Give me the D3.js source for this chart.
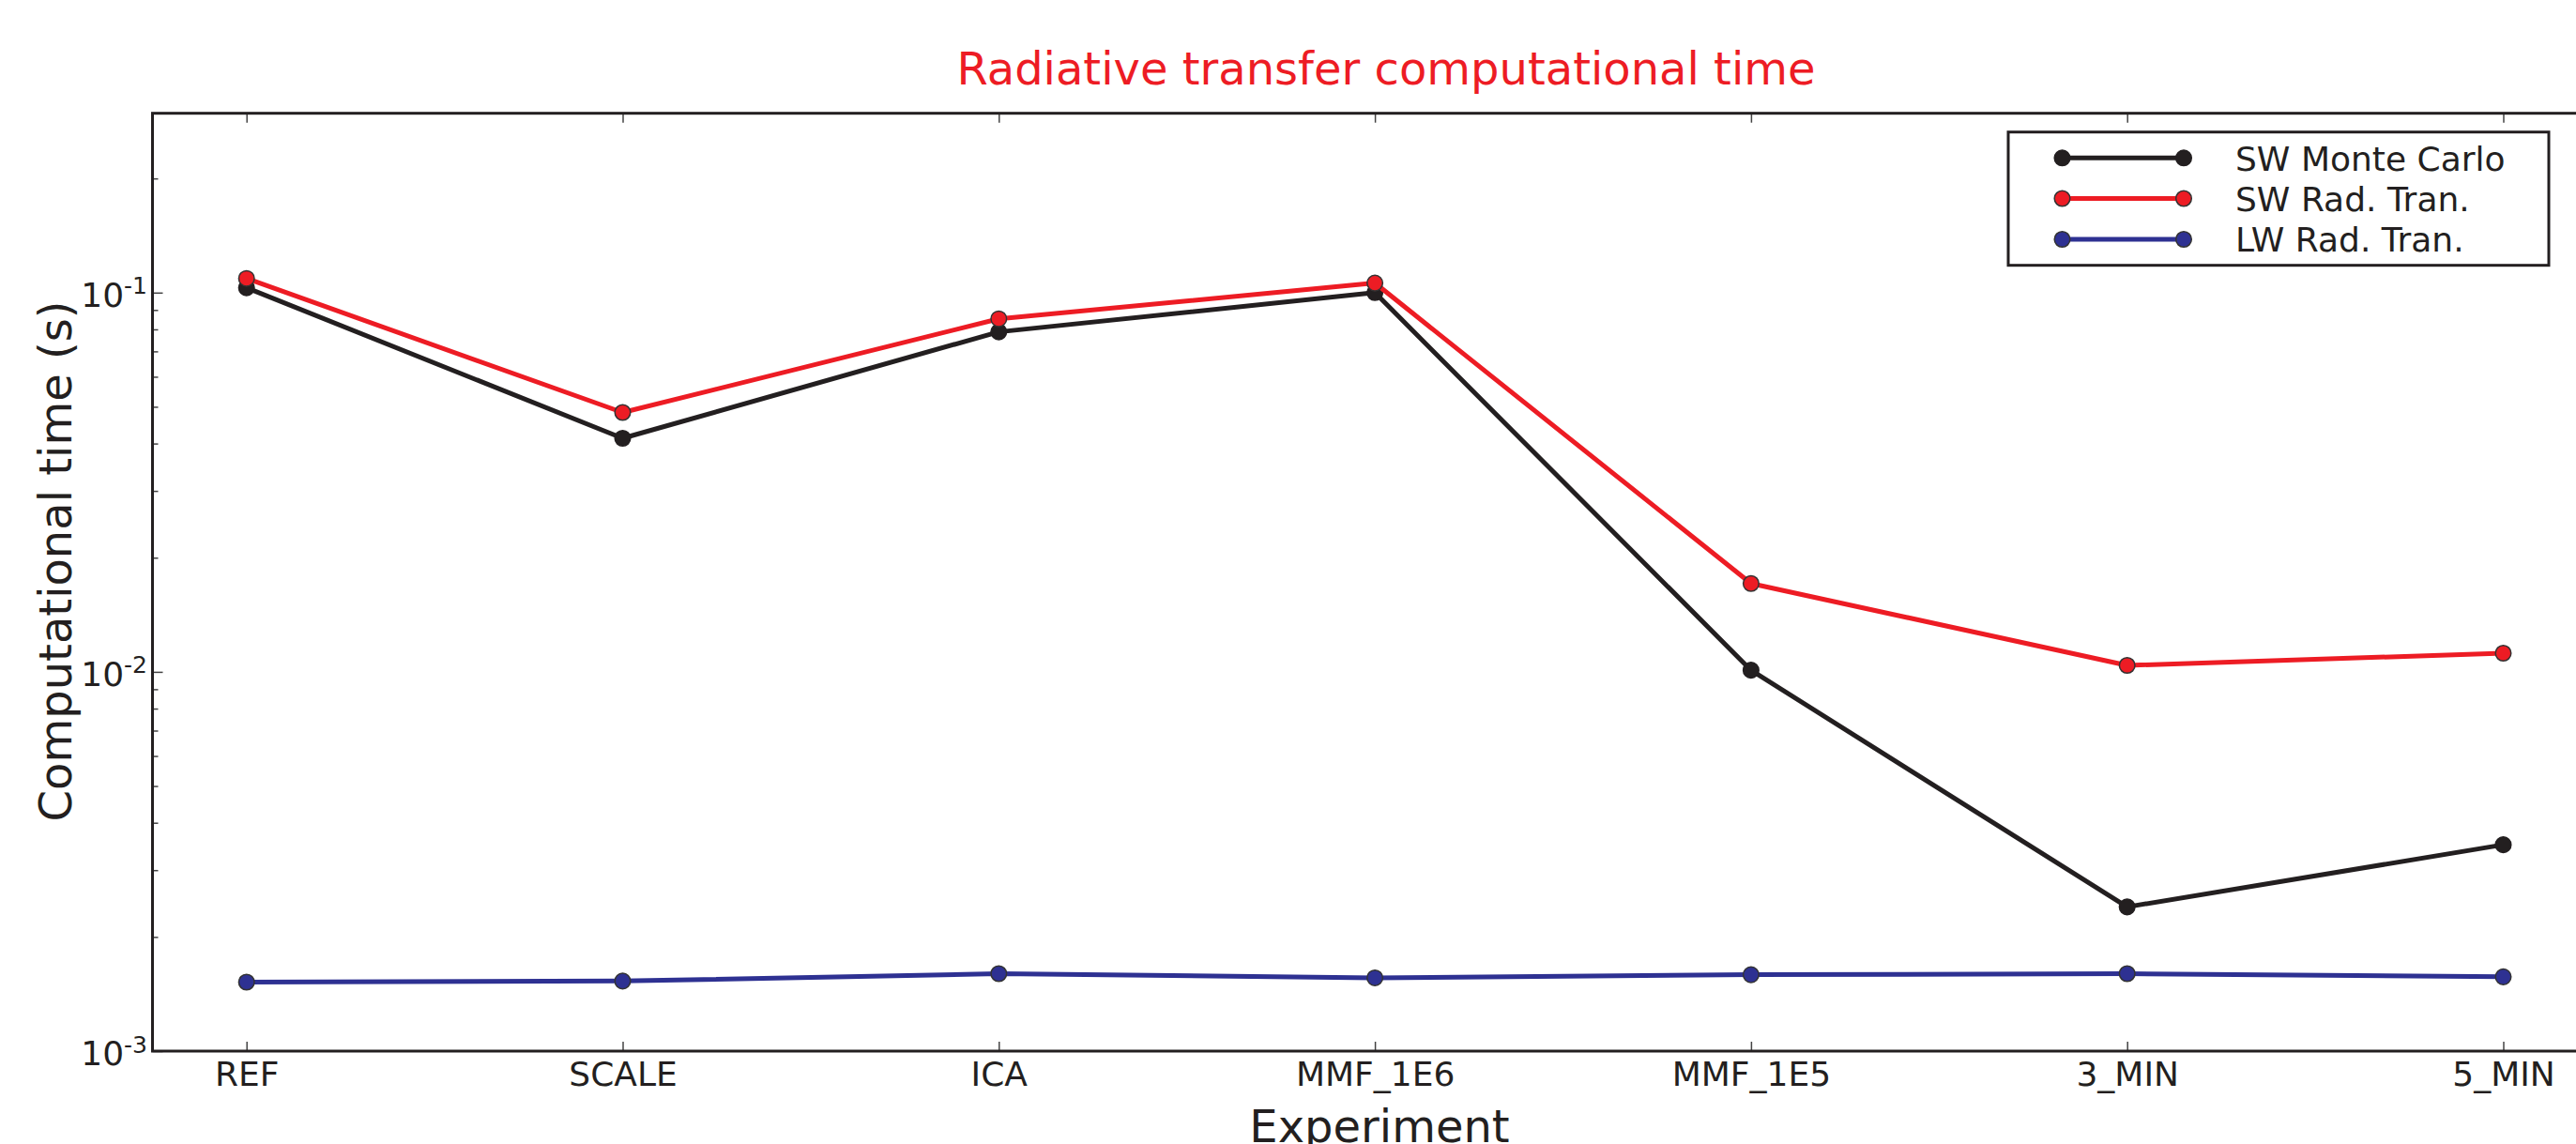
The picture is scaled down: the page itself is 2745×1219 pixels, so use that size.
<!DOCTYPE html>
<html>
<head>
<meta charset="utf-8">
<script src="https://cdn.jsdelivr.net/npm/d3@7"></script>
<style>
  body { margin: 0; background: #fff; }
  svg { display: block; font-family: "DejaVu Sans", sans-serif; }
</style>
</head>
<body>
<div id="chart"></div>
<script>
  // Values
  const experiments = ["REF", "SCALE", "ICA", "MMF_1E6", "MMF_1E5", "3_MIN", "5_MIN"];
  const swMonteCarlo = [0.103, 0.0413, 0.0788, 0.100, 0.0101, 0.00240, 0.00350];
  const swRadTran = [0.109, 0.0483, 0.0853, 0.106, 0.0171, 0.0104, 0.0112];
  const lwRadTran = [0.00152, 0.00153, 0.00160, 0.00156, 0.00159, 0.00160, 0.00157];
  const seriesNames = ["SW Monte Carlo", "SW Rad. Tran.", "LW Rad. Tran."];
  const seriesColors = ["#231f20", "#ed1c24", "#2e3192"];
  const majorTicks = [1e-3, 1e-2, 1e-1];
  const majorLabels = ["-3", "-2", "-1"];

  const width = 2745, height = 1219;
  const margin = {top: 120.7, left: 162.5, bottom: 1120};
  const ink = "#231f20";

  const svg = d3.select("#chart")
    .append("svg")
    .attr("width", width)
    .attr("height", height);

  // x runs from -0.25 to 6.25 so the right part of the frame falls off the page
  const x = d3.scaleLinear()
    .domain([-0.25, 6.25])
    .range([margin.left, margin.left + 6.5 * 400.8]);

  const y = d3.scaleLog()
    .domain([1e-3, 0.3])
    .range([margin.bottom, 119]);

  // minor ticks 2..9 per decade
  const minorTicks = [];
  [1e-3, 1e-2, 1e-1].forEach(d => {
    for (let k = 2; k <= 9; k++) {
      const v = k * d;
      if (v <= 0.3) minorTicks.push(v);
    }
  });

  // bottom axis
  const xAxis = svg.append("g")
    .attr("transform", `translate(0,${margin.bottom})`)
    .call(d3.axisBottom(x)
      .tickValues(d3.range(experiments.length))
      .tickFormat(i => experiments[i])
      .tickSize(-10)
      .tickPadding(11));
  xAxis.select(".domain").remove();
  xAxis.selectAll("line").attr("stroke", "#444").attr("stroke-width", 1.5);
  xAxis.selectAll("text")
    .attr("fill", ink)
    .style("font-size", "36px")
    .style("font-family", "DejaVu Sans");

  // top axis (ticks only)
  const xTop = svg.append("g")
    .attr("transform", `translate(0,${margin.top})`)
    .call(d3.axisTop(x)
      .tickValues(d3.range(experiments.length))
      .tickFormat("")
      .tickSize(-10));
  xTop.select(".domain").remove();
  xTop.selectAll("line").attr("stroke", "#444").attr("stroke-width", 1.5);

  // left axis major + minor ticks
  const yMajor = svg.append("g")
    .attr("transform", `translate(${margin.left},0)`)
    .call(d3.axisLeft(y).tickValues(majorTicks).tickFormat("").tickSize(-11));
  yMajor.select(".domain").remove();
  yMajor.selectAll("line").attr("stroke", "#444").attr("stroke-width", 1.5);

  const yMinor = svg.append("g")
    .attr("transform", `translate(${margin.left},0)`)
    .call(d3.axisLeft(y).tickValues(minorTicks).tickFormat("").tickSize(-6));
  yMinor.select(".domain").remove();
  yMinor.selectAll("line").attr("stroke", "#444").attr("stroke-width", 1.5);

  // y tick labels as 10 with superscript
  const yLab = svg.append("g").selectAll("text")
    .data(majorTicks)
    .join("text")
    .attr("x", 157)
    .attr("y", d => y(d) + 15)
    .attr("text-anchor", "end")
    .attr("fill", ink)
    .style("font-size", "36px");
  yLab.append("tspan").text("10");
  yLab.append("tspan")
    .attr("dy", -13.5)
    .style("font-size", "25px")
    .text((d, i) => majorLabels[i]);

  // frame
  const x0 = x.range()[0], x1 = x.range()[1];
  svg.append("rect")
    .attr("x", x0)
    .attr("y", margin.top)
    .attr("width", x1 - x0)
    .attr("height", margin.bottom - margin.top)
    .attr("fill", "none")
    .attr("stroke", ink)
    .attr("stroke-width", 3);

  // lines
  const allSeries = [swMonteCarlo, swRadTran, lwRadTran];
  const line = d3.line()
    .x((d, i) => x(i))
    .y(d => y(d));

  allSeries.forEach((s, k) => {
    svg.append("path")
      .datum(s)
      .attr("d", line)
      .attr("fill", "none")
      .attr("stroke", seriesColors[k])
      .attr("stroke-width", 5)
      .attr("stroke-linejoin", "round");
    svg.append("g").selectAll("circle")
      .data(s)
      .join("circle")
      .attr("cx", (d, i) => x(i))
      .attr("cy", d => y(d))
      .attr("r", 8.3)
      .attr("fill", seriesColors[k])
      .attr("stroke", k === 0 ? ink : "#333")
      .attr("stroke-width", 1.5);
  });

  // legend
  const legend = svg.append("g");
  legend.append("rect")
    .attr("x", 2140)
    .attr("y", 140.7)
    .attr("width", 576)
    .attr("height", 142)
    .attr("fill", "#fff")
    .attr("stroke", ink)
    .attr("stroke-width", 3);
  const rowY = [168.3, 211.5, 255];
  seriesNames.forEach((name, k) => {
    const g = legend.append("g");
    g.append("line")
      .attr("x1", 2197.5).attr("x2", 2327)
      .attr("y1", rowY[k]).attr("y2", rowY[k])
      .attr("stroke", seriesColors[k])
      .attr("stroke-width", 5);
    [2197.5, 2327].forEach(cx => {
      g.append("circle")
        .attr("cx", cx).attr("cy", rowY[k]).attr("r", 8.3)
        .attr("fill", seriesColors[k])
        .attr("stroke", k === 0 ? ink : "#333")
        .attr("stroke-width", 1.5);
    });
    g.append("text")
      .attr("x", 2382)
      .attr("y", rowY[k] + 13.4)
      .attr("fill", ink)
      .style("font-size", "36px")
      .text(name);
  });

  // title and axis labels
  svg.append("text")
    .attr("x", 1477)
    .attr("y", 90)
    .attr("text-anchor", "middle")
    .attr("fill", "#ed1c24")
    .style("font-size", "48px")
    .text("Radiative transfer computational time");

  svg.append("text")
    .attr("x", 1470)
    .attr("y", 1216.7)
    .attr("text-anchor", "middle")
    .attr("fill", ink)
    .style("font-size", "48px")
    .text("Experiment");

  svg.append("text")
    .attr("transform", "translate(76,598) rotate(-90)")
    .attr("text-anchor", "middle")
    .attr("fill", ink)
    .style("font-size", "48px")
    .text("Computational time (s)");
</script>
</body>
</html>
